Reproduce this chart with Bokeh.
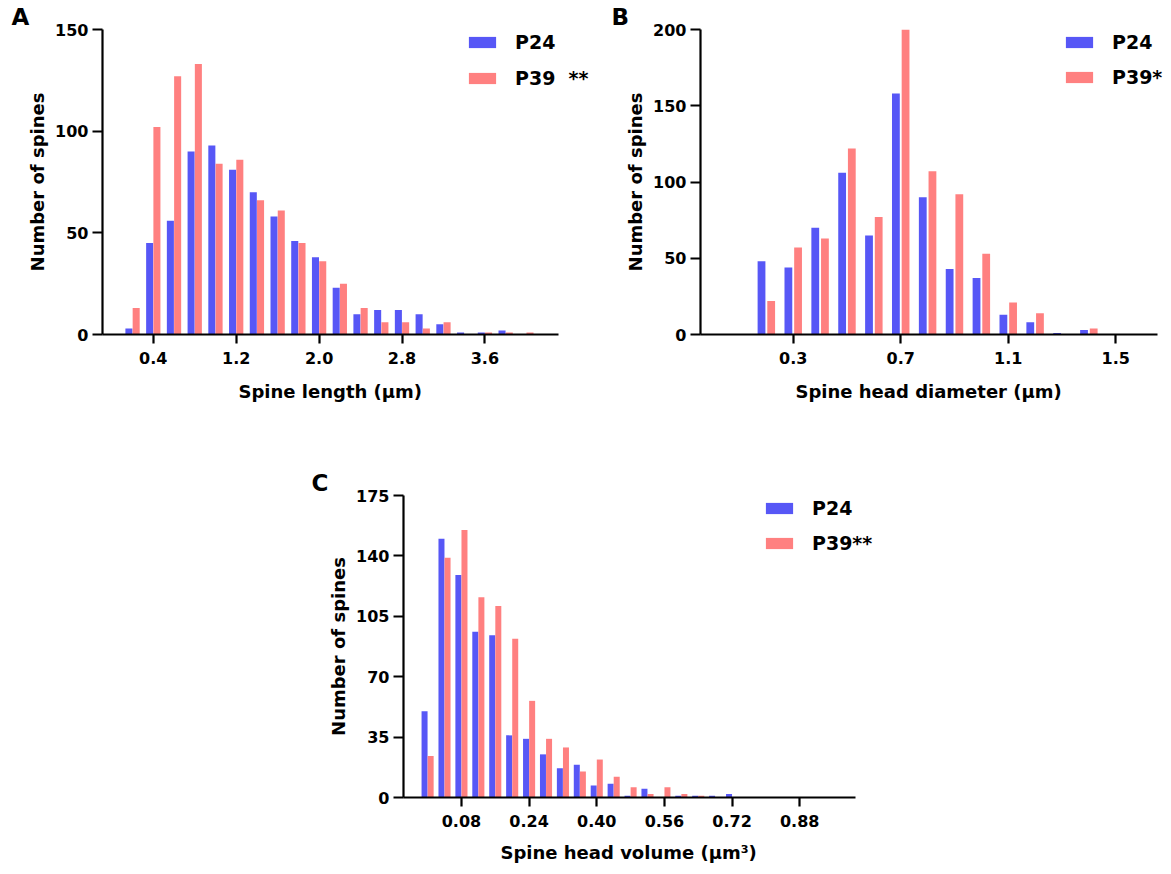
from bokeh.plotting import figure
from bokeh.models import Range1d, FixedTicker, Legend, LegendItem, Spacer, ColumnDataSource, Title
from bokeh.layouts import column, row
from bokeh.transform import dodge
from bokeh.embed import file_html
from bokeh.resources import INLINE

# ---------------- data ----------------
# Panel A: spine length (um)
len_bins = [0.2, 0.4, 0.6, 0.8, 1.0, 1.2, 1.4, 1.6, 1.8, 2.0,
            2.2, 2.4, 2.6, 2.8, 3.0, 3.2, 3.4, 3.6, 3.8, 4.0]
len_p24 = [3, 45, 56, 90, 93, 81, 70, 58, 46, 38, 23, 10, 12, 12, 10, 5, 1, 1, 2, 0]
len_p39 = [13, 102, 127, 133, 84, 86, 66, 61, 45, 36, 25, 13, 6, 6, 3, 6, 0, 1, 1, 1]
len_xticks = [0.4, 1.2, 2.0, 2.8, 3.6]
len_xlabels = ["0.4", "1.2", "2.0", "2.8", "3.6"]
len_yticks = [0, 50, 100, 150]

# Panel B: spine head diameter (um)
dia_bins = [0.2, 0.3, 0.4, 0.5, 0.6, 0.7, 0.8, 0.9, 1.0, 1.1, 1.2, 1.3, 1.4, 1.5, 1.6]
dia_p24 = [48, 44, 70, 106, 65, 158, 90, 43, 37, 13, 8, 1, 3, 0, 0]
dia_p39 = [22, 57, 63, 122, 77, 200, 107, 92, 53, 21, 14, 0, 4, 0, 0]
dia_xticks = [0.3, 0.7, 1.1, 1.5]
dia_xlabels = ["0.3", "0.7", "1.1", "1.5"]
dia_yticks = [0, 50, 100, 150, 200]

# Panel C: spine head volume (um^3)
vol_bins = [0.00, 0.04, 0.08, 0.12, 0.16, 0.20, 0.24, 0.28, 0.32, 0.36,
            0.40, 0.44, 0.48, 0.52, 0.56, 0.60, 0.64, 0.68, 0.72, 0.76]
vol_p24 = [50, 150, 129, 96, 94, 36, 34, 25, 17, 19, 7, 8, 1, 5, 0, 1, 1, 1, 2, 0]
vol_p39 = [24, 139, 155, 116, 111, 92, 56, 34, 29, 15, 22, 12, 6, 2, 6, 2, 1, 0, 0, 0]
vol_xticks = [0.08, 0.24, 0.40, 0.56, 0.72, 0.88]
vol_xlabels = ["0.08", "0.24", "0.40", "0.56", "0.72", "0.88"]
vol_yticks = [0, 35, 70, 105, 140, 175]

series_names = ["P24", "P39"]

BLUE = "#5757F6"
RED = "#FF8080"
FONT = "DejaVu Sans"


def make_panel(letter, bins, p24, p39, xticks, xlabels, yticks, xr, xr_ext, ymax,
               xlabel, xlabel_offset, sig, width, height, borders, bar_w, off,
               legend_loc, legend_spacing, xlab_standoff):
    bl, br, bt, bb = borders
    p = figure(width=width, height=height,
               x_range=Range1d(xr[0], xr_ext), y_range=Range1d(0, ymax),
               output_backend="svg", toolbar_location=None,
               min_border_left=bl, min_border_right=br,
               min_border_top=bt, min_border_bottom=bb)
    p.grid.visible = False
    p.outline_line_color = None
    p.background_fill_color = "white"
    p.border_fill_color = "white"

    p.title = Title(text=letter, align="left", offset=-(bl - 11),
                    text_font=FONT, text_font_style="bold",
                    text_font_size="23px", text_color="black",
                    standoff=0, vertical_align="bottom")

    src = ColumnDataSource(dict(x=bins, a=p24, b=p39))
    r1 = p.vbar(x=dodge("x", -off, range=p.x_range), top="a", width=bar_w,
                source=src, fill_color=BLUE, line_color=None)
    r2 = p.vbar(x=dodge("x", off, range=p.x_range), top="b", width=bar_w,
                source=src, fill_color=RED, line_color=None)

    xa = p.xaxis[0]
    ya = p.yaxis[0]
    xa.ticker = FixedTicker(ticks=xticks)
    xa.major_label_overrides = {t: l for t, l in zip(xticks, xlabels)}
    xa.bounds = (xr[0], xr[1])
    ya.ticker = FixedTicker(ticks=yticks)
    for ax in (xa, ya):
        ax.axis_line_width = 2.2
        ax.axis_line_color = "black"
        ax.major_tick_line_width = 2.2
        ax.major_tick_line_color = "black"
        ax.major_tick_in = 0
        ax.minor_tick_line_color = None
        ax.major_label_text_font = FONT
        ax.major_label_text_font_style = "bold"
        ax.major_label_text_font_size = "16px"
        ax.major_label_text_color = "black"
        ax.axis_label_text_font = FONT
        ax.axis_label_text_font_style = "bold"
        ax.axis_label_text_font_size = "18px"
        ax.axis_label_text_color = "black"
    xa.major_tick_out = 9
    xa.major_label_standoff = 8
    ya.major_tick_out = 10
    ya.major_label_standoff = 4
    ya.axis_label = "Number of spines"
    ya.axis_label_standoff = 4

    # x-axis title placed below the axis, aligned to the axis (not the wider frame)
    p.add_layout(Title(text=xlabel, align="left", offset=xlabel_offset,
                       text_font=FONT, text_font_style="bold",
                       text_font_size="18px", text_color="black",
                       standoff=xlab_standoff), "below")

    legend = Legend(items=[LegendItem(label=series_names[0], renderers=[r1]),
                           LegendItem(label=series_names[1] + sig, renderers=[r2])],
                    location=legend_loc, orientation="vertical",
                    glyph_width=34, glyph_height=14, label_height=22,
                    label_standoff=16, spacing=legend_spacing,
                    padding=0, margin=0, border_line_color=None,
                    background_fill_alpha=0,
                    label_text_font=FONT, label_text_font_style="bold",
                    label_text_font_size="19px", label_text_color="black")
    p.add_layout(legend, "center")
    return p


# frame extents: A 102..595 (axis to 558), B 700..1169 (axis to 1157), C 403..880 (axis to 855)
pA = make_panel("A", len_bins, len_p24, len_p39, len_xticks, len_xlabels, len_yticks,
                (-0.09, 4.31), 4.667, 150, "Spine length (μm)", 136, "  **",
                600, 430, (102, 5, 29, 96), 0.068, 0.035, (363, 245), 14, 25)
pB = make_panel("B", dia_bins, dia_p24, dia_p39, dia_xticks, dia_xlabels, dia_yticks,
                (-0.045, 1.655), 1.700, 200, "Spine head diameter (μm)", 95, "*",
                571, 430, (100, 2, 29, 96), 0.029, 0.018, (362, 246), 13, 25)
pC = make_panel("C", vol_bins, vol_p24, vol_p39, vol_xticks, vol_xlabels, vol_yticks,
                (-0.057, 1.012), 1.071, 175, "Spine head volume (μm³)", 97, "**",
                600, 444, (103, 20, 65, 77), 0.0142, 0.0072, (359, 243), 13, 20)

layout = column(row(pA, pB), row(Spacer(width=300, height=444), pC))

with open("out.html", "w") as f:
    f.write(file_html(layout, INLINE))
